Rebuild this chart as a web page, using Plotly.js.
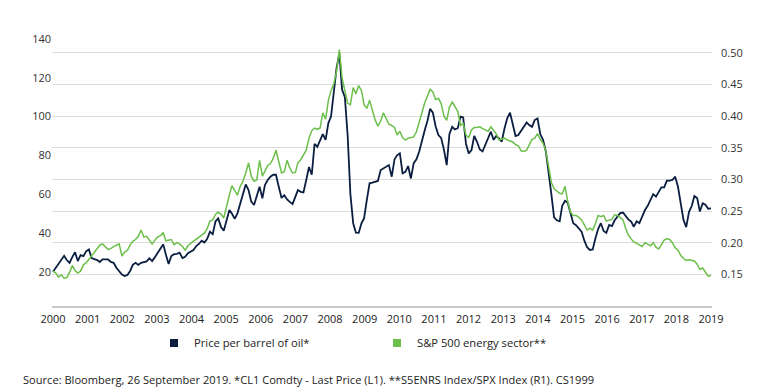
<!DOCTYPE html>
<html>
<head>
<meta charset="utf-8">
<script src="https://cdn.plot.ly/plotly-3.0.1.min.js"></script>
<style>html,body{margin:0;padding:0;background:#fff;}#chart{width:767px;height:391px;}</style>
</head>
<body>
<div id="chart"></div>
<script>
// Monthly observations, first month October 1999, last month September 2019
var startYear = 1999, startMonth = 10;

var oilPrice = [
 20, 22, 24, 26, 28.2, 26, 24.5, 27.5, 30, 25.5,
 28.5, 28, 30.5, 31.5, 27, 26.5, 26, 25, 26.4, 26.4,
 26.3, 25, 24.6, 22, 20, 18.5, 17.8, 18.3, 20.5, 23.5,
 24.6, 23.5, 24.6, 25, 25.3, 26.9, 25.5, 27.5, 29.5, 31.5,
 34.1, 29, 24, 28.1, 29, 29.2, 29.8, 27, 27.7, 29.5,
 30.3, 31.2, 33.2, 34.3, 36, 35, 37, 40.6, 39.4, 46,
 47.5, 43, 41.1, 46.6, 51.8, 50, 47.2, 50.1, 55.2, 60,
 65, 62.1, 56.1, 54.4, 58.7, 63.8, 57.8, 64.7, 67.3, 69,
 70, 70, 63.8, 58, 59.5, 57.3, 56, 54.9, 58.7, 62.1,
 61.2, 60.9, 67.3, 74, 70, 86, 84.4, 88, 91, 88,
 96.8, 100, 113, 125, 132.6, 114, 110, 90, 60, 45,
 40.1, 40, 45, 47.5, 57, 65.6, 65.9, 66.2, 66.8, 72.4,
 73.3, 74, 75, 69, 78, 80, 81, 70.7, 71.5, 74.5,
 68.1, 76, 78, 82, 87.9, 93, 98, 104, 102, 95,
 90.5, 89, 83, 75, 91, 94.7, 93.4, 94, 100, 99.6,
 86, 81, 82.7, 90, 87, 83, 82, 85.3, 88.8, 92.2,
 88, 90, 88.8, 87, 93.9, 99.1, 102, 95, 90, 90.5,
 92.5, 95, 97, 95.6, 94.7, 98.2, 99, 91, 88, 82,
 72, 60, 48, 46.5, 46, 54, 56.6, 55.6, 50.1, 45,
 44, 42.4, 40.6, 36, 32.6, 31.2, 31.5, 37, 42, 45,
 41, 40, 44.1, 43.5, 46.5, 48.4, 50.2, 50.5, 48.4, 47,
 45.8, 43.2, 46, 45, 48.4, 51.8, 54, 57.5, 60, 58.7,
 61.2, 63.5, 63.5, 67, 67, 67.3, 69, 63.8, 55.3, 46.7,
 43, 50.9, 54, 59, 58, 51, 55.3, 54.5, 52.5, 52.7
];

var energyRatio = [
 0.155, 0.152, 0.146, 0.149, 0.144, 0.145, 0.153, 0.164, 0.156, 0.152,
 0.155, 0.165, 0.168, 0.174, 0.179, 0.186, 0.192, 0.196, 0.198, 0.194,
 0.189, 0.191, 0.194, 0.196, 0.198, 0.179, 0.185, 0.188, 0.197, 0.202,
 0.205, 0.21, 0.22, 0.209, 0.21, 0.203, 0.198, 0.204, 0.209, 0.211,
 0.216, 0.203, 0.204, 0.205, 0.197, 0.2, 0.198, 0.194, 0.188, 0.195,
 0.199, 0.202, 0.206, 0.209, 0.212, 0.215, 0.222, 0.234, 0.236, 0.245,
 0.248, 0.245, 0.239, 0.255, 0.275, 0.29, 0.283, 0.275, 0.289, 0.297,
 0.31, 0.326, 0.305, 0.297, 0.299, 0.33, 0.305, 0.312, 0.322, 0.325,
 0.333, 0.346, 0.327, 0.31, 0.312, 0.33, 0.318, 0.31, 0.311, 0.326,
 0.331, 0.339, 0.346, 0.365, 0.377, 0.381, 0.379, 0.381, 0.405, 0.395,
 0.425, 0.44, 0.451, 0.47, 0.505, 0.46, 0.44, 0.42, 0.418, 0.445,
 0.435, 0.448, 0.44, 0.418, 0.412, 0.425, 0.409, 0.394, 0.384, 0.392,
 0.405, 0.395, 0.387, 0.385, 0.382, 0.37, 0.376, 0.366, 0.362, 0.365,
 0.366, 0.367, 0.375, 0.39, 0.408, 0.421, 0.432, 0.442, 0.438, 0.426,
 0.428, 0.42, 0.40, 0.393, 0.414, 0.422, 0.415, 0.407, 0.385, 0.388,
 0.37, 0.366, 0.378, 0.382, 0.382, 0.383, 0.38, 0.378, 0.376, 0.383,
 0.377, 0.372, 0.362, 0.363, 0.365, 0.362, 0.361, 0.359, 0.355, 0.353,
 0.345, 0.344, 0.346, 0.354, 0.363, 0.365, 0.372, 0.363, 0.357, 0.345,
 0.32, 0.295, 0.285, 0.282, 0.278, 0.277, 0.289, 0.265, 0.248, 0.243,
 0.243, 0.24, 0.236, 0.228, 0.22, 0.223, 0.22, 0.23, 0.243, 0.241,
 0.243, 0.234, 0.235, 0.237, 0.244, 0.243, 0.24, 0.236, 0.222, 0.212,
 0.206, 0.201, 0.199, 0.197, 0.194, 0.2, 0.198, 0.195, 0.2, 0.193,
 0.19, 0.197, 0.204, 0.206, 0.205, 0.2, 0.192, 0.188, 0.18, 0.175,
 0.172, 0.173, 0.172, 0.171, 0.166, 0.158, 0.16, 0.154, 0.147, 0.148
];

var yearLabels = ['2000','2001','2002','2003','2004','2005','2006','2007','2008','2009',
                  '2010','2011','2012','2013','2014','2015','2016','2017','2018','2019'];
var leftTicks = [20, 40, 60, 80, 100, 120, 140];
var rightTicks = [0.10, 0.15, 0.20, 0.25, 0.30, 0.35, 0.40, 0.45, 0.50, 0.55];
var rightTickText = ['', '0.15', '0.20', '0.25', '0.30', '0.35', '0.40', '0.45', '0.50', ''];

var seriesNames = ['Price per barrel of oil*', 'S&P 500 energy sector**'];
var sourceNote = 'Source: Bloomberg, 26 September 2019. *CL1 Comdty - Last Price (L1). **S5ENRS Index/SPX Index (R1). CS1999';

var navy = '#0b1e40', green = '#6cbf4a';

// month dates
var dates = [];
for (var k = 0; k < oilPrice.length; k++) {
  var m0 = startMonth - 1 + k;
  var y = startYear + Math.floor(m0 / 12), m = (m0 % 12) + 1;
  dates.push(y + '-' + (m < 10 ? '0' + m : m) + '-01');
}
// year labels are spread evenly between the first and last observation
var t0 = Date.parse(dates[0]), t1 = Date.parse(dates[dates.length - 1]);
var tickDates = yearLabels.map(function (_, j) {
  return new Date(t0 + (t1 - t0) * j / (yearLabels.length - 1)).toISOString();
});
var pad = (t1 - t0) / 660;

var font = 'Open Sans, sans-serif';

var traces = [
  {x: dates, y: oilPrice, yaxis: 'y', type: 'scatter', mode: 'lines', name: seriesNames[0],
   line: {color: navy, width: 1.8}, showlegend: false, hoverinfo: 'x+y'},
  {x: dates, y: energyRatio, yaxis: 'y2', type: 'scatter', mode: 'lines', name: seriesNames[1],
   line: {color: green, width: 1.5}, showlegend: false, hoverinfo: 'x+y'},
  {x: [null], y: [null], type: 'scatter', mode: 'markers', name: seriesNames[0],
   marker: {symbol: 'square', size: 8, color: navy}, legend: 'legend'},
  {x: [null], y: [null], type: 'scatter', mode: 'markers', name: seriesNames[1], yaxis: 'y2',
   marker: {symbol: 'square', size: 8, color: green}, legend: 'legend2'}
];

var layout = {
  width: 767, height: 391,
  margin: {l: 52, r: 55, t: 21, b: 85},
  paper_bgcolor: '#fff', plot_bgcolor: '#fff',
  font: {family: font, size: 11, color: '#333'},
  showlegend: true,
  xaxis: {
    type: 'date',
    range: [new Date(t0 - pad).toISOString(), new Date(t1 + pad).toISOString()],
    tickmode: 'array', tickvals: tickDates, ticktext: yearLabels,
    showgrid: false, zeroline: false, showline: true, linecolor: '#c9c9c9', linewidth: 2,
    ticks: '', ticklabelstandoff: 2, tickfont: {size: 11, color: '#222'}
  },
  yaxis: {
    range: [2.3, 149.3], tickmode: 'array', tickvals: leftTicks,
    showgrid: false, zeroline: false, showline: false, ticks: '',
    tickfont: {size: 11, color: '#333'}
  },
  yaxis2: {
    overlaying: 'y', side: 'right', range: [0.10, 0.55],
    tickmode: 'array', tickvals: rightTicks, ticktext: rightTickText,
    showgrid: true, gridcolor: '#dcdcdc', gridwidth: 1, zeroline: false, showline: false,
    ticks: '', ticklabelstandoff: 8, tickfont: {size: 11, color: '#333'}
  },
  legend: {orientation: 'h', xref: 'container', yref: 'container', x: 154 / 767, y: 48 / 391,
           xanchor: 'left', yanchor: 'middle', font: {size: 11.2, color: '#222'}, itemwidth: 30,
           bgcolor: 'rgba(0,0,0,0)'},
  legend2: {orientation: 'h', xref: 'container', yref: 'container', x: 377 / 767, y: 48 / 391,
           xanchor: 'left', yanchor: 'middle', font: {size: 11.2, color: '#222'}, itemwidth: 30,
           bgcolor: 'rgba(0,0,0,0)'},
  annotations: [{
    text: sourceNote, xref: 'paper', yref: 'paper', x: -31 / 660, y: -73 / 285,
    xanchor: 'left', yanchor: 'middle', showarrow: false,
    font: {size: 11.1, color: '#222', family: font}
  }]
};

Plotly.newPlot('chart', traces, layout, {displayModeBar: false, responsive: false});
</script>
</body>
</html>
